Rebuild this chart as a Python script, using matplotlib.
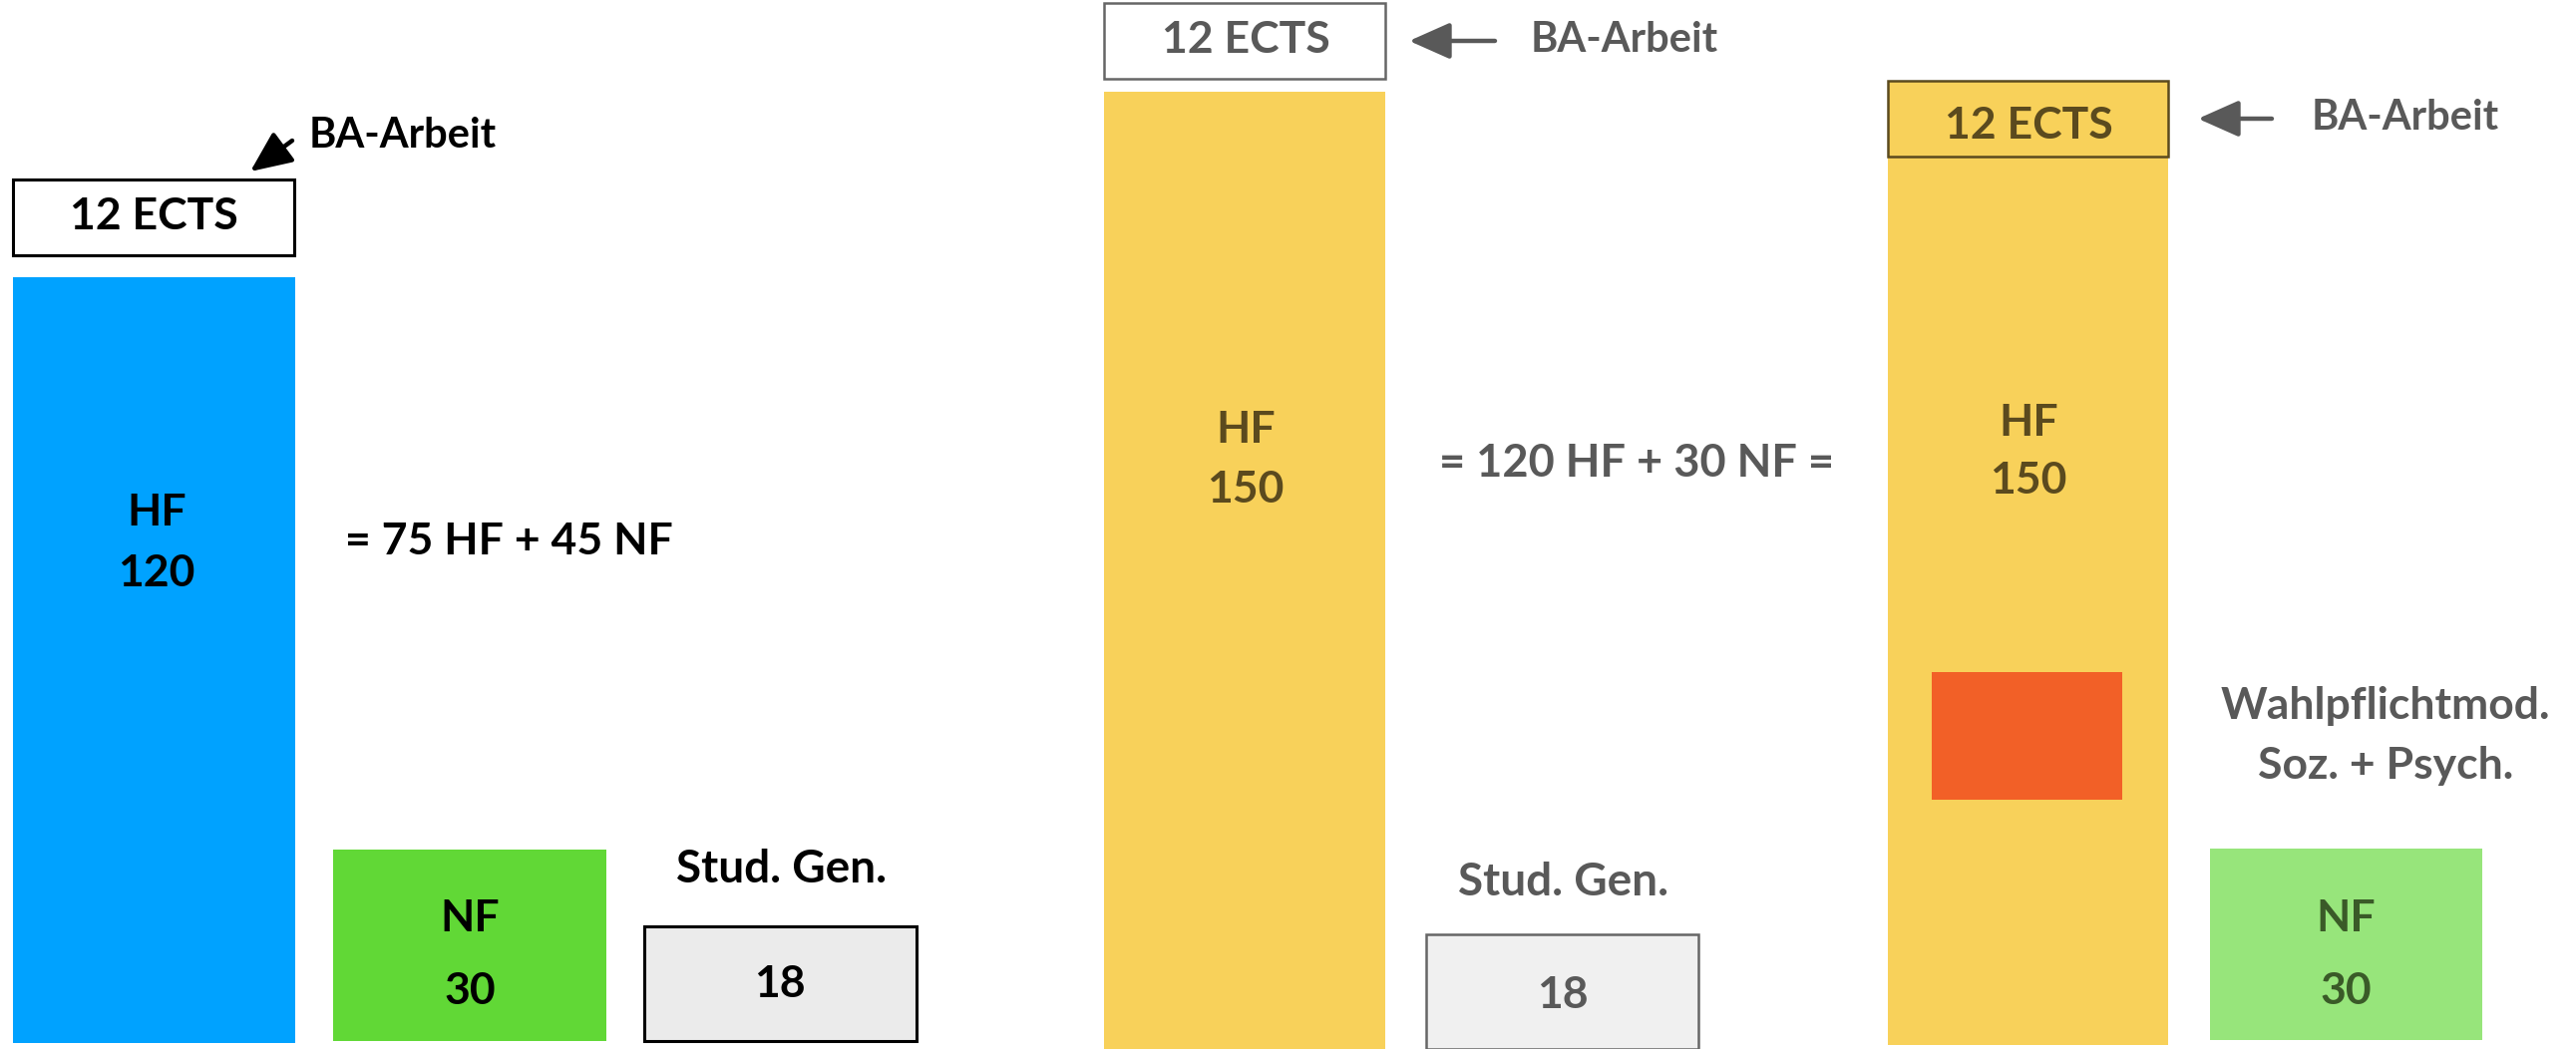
import matplotlib
matplotlib.use('Agg')
import matplotlib.pyplot as plt

plt.rcParams['font.family'] = ['Lato', 'DejaVu Sans']

# ---------------- data (ECTS values) ----------------
ba_ects = 12
left_hf = 120
left_nf = 30
left_sg = 18
mid_hf = 150
mid_sg = 18
right_hf = 150
right_nf = 30
right_wpm = 20          # unlabeled block, estimated from size
left_formula = "= 75 HF + 45 NF"
mid_formula = "= 120 HF + 30 NF ="
ba_label = "BA-Arbeit"
sg_label = "Stud. Gen."
wpm_lines = ["Wahlpflichtmod.", "Soz. + Psych."]

# ---------------- layout ----------------
W, H = 2583, 1052
K = 6.4  # pixels per ECTS


def u(px):
    """pixel row from top -> data units"""
    return (H - px) / K


fig = plt.figure(figsize=(W / 100, H / 100), dpi=100)
ax = fig.add_axes([0, 0, 1, 1])
ax.set_xlim(0, W)
ax.set_ylim(0, H / K)
ax.axis('off')

BLUE = '#00A2FF'
GREEN = '#61D836'
LGREEN = '#97E57B'
YELLOW = '#F8D15A'
ORANGE = '#F26027'
GRAYTXT = '#595959'
OLIVE = '#5B4A1E'
DGREEN = '#3A5A28'
FS = 32


def bar(x, w, bottom, h, fc, ec='none', lw=0):
    ax.bar(x, h, width=w, bottom=bottom, align='edge', color=fc,
           edgecolor=ec, linewidth=lw)


def txt(x, px, s, color, fs=FS, ha='center'):
    ax.text(x, u(px), s, ha=ha, va='center', color=color, fontsize=fs,
            fontweight='bold')


def arrow(tail, head, color):
    ax.annotate('', xy=(head[0], u(head[1])), xytext=(tail[0], u(tail[1])),
                arrowprops=dict(arrowstyle='-|>,head_length=0.9,head_width=0.4',
                                lw=3.2, color=color, shrinkA=0, shrinkB=0,
                                mutation_scale=28))


# ---------------- left panel ----------------
bar(13, 283, u(1046), left_hf, BLUE)
txt(157, 514, "HF", 'black')
txt(157, 575, str(left_hf), 'black')
bar(13, 282, u(218) - ba_ects / 2, ba_ects, 'white', 'black', 2.2)
txt(154, 217, f"{ba_ects} ECTS", 'black')
arrow((293, 141), (251, 172), 'black')
txt(310, 136, ba_label, 'black', fs=30, ha='left')
txt(346, 543, left_formula, 'black', ha='left')
bar(334, 274, u(1044), left_nf, GREEN)
txt(471, 921, "NF", 'black')
txt(471, 994, str(left_nf), 'black')
txt(784, 872, sg_label, 'black', fs=33)
bar(646, 273, u(1044), left_sg, '#EBEBEB', 'black', 2.2)
txt(782, 987, str(left_sg), 'black')

# ---------------- middle panel ----------------
bar(1107, 282, 0, mid_hf, YELLOW)
txt(1249, 431, "HF", OLIVE)
txt(1249, 491, str(mid_hf), OLIVE)
bar(1107, 282, u(41) - ba_ects / 2, ba_ects, 'white', '#666666', 1.8)
txt(1249, 40, f"{ba_ects} ECTS", GRAYTXT)
arrow((1499, 41), (1413, 41), GRAYTXT)
txt(1535, 40, ba_label, GRAYTXT, fs=30, ha='left')
txt(1641, 465, mid_formula, GRAYTXT, fs=32.5)
txt(1568, 885, sg_label, GRAYTXT, fs=33)
bar(1430, 273, 0, mid_sg, '#F0F0F0', '#666666', 1.8)
txt(1567, 998, str(mid_sg), GRAYTXT)

# ---------------- right panel ----------------
bar(1893, 281, u(1048), right_hf, YELLOW)
txt(2034, 424, "HF", OLIVE)
txt(2034, 482, str(right_hf), OLIVE)
bar(1893, 281, u(119) - ba_ects / 2, ba_ects, YELLOW, OLIVE, 1.8)
txt(2034, 126, f"{ba_ects} ECTS", OLIVE)
arrow((2278, 119), (2204, 119), GRAYTXT)
txt(2318, 118, ba_label, GRAYTXT, fs=30, ha='left')
bar(1937, 191, u(802), right_wpm, ORANGE)
txt(2392, 708, wpm_lines[0], GRAYTXT)
txt(2392, 768, wpm_lines[1], GRAYTXT)
bar(2216, 273, u(1043), right_nf, LGREEN)
txt(2352, 921, "NF", DGREEN)
txt(2352, 994, str(right_nf), DGREEN)

fig.savefig('out.png', dpi=100, facecolor='white')
